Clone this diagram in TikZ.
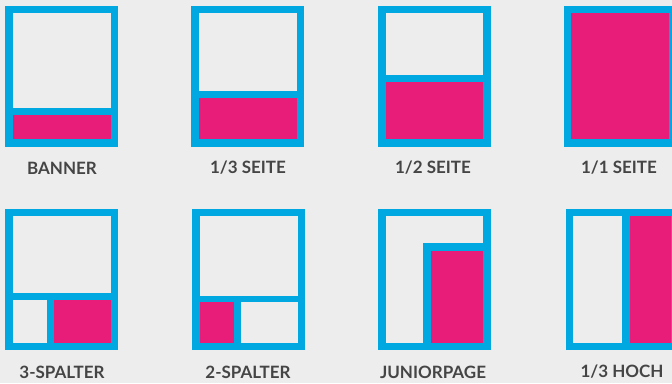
\documentclass[tikz,border=0pt]{standalone}
\usepackage{fontspec}
\setmainfont{Lato}
\usepackage{tikz}
\usetikzlibrary{positioning}
\definecolor{bg}{HTML}{EDEDED}
\definecolor{frame}{HTML}{00A8E1}
\definecolor{ad}{HTML}{E81D7A}
\definecolor{ink}{HTML}{454545}

\begin{document}
\begin{tikzpicture}[x=1pt,y=-1pt,
    blueframe/.style={fill=frame},
    paper/.style={fill=bg},
    adfill/.style={fill=ad},
    caption/.style={font=\fontsize{17}{20}\selectfont\bfseries,text=ink,inner sep=0pt}]
  \fill[bg] (0,0) rectangle (672,383);
  \useasboundingbox (0,0) rectangle (672,383);
  % labels
  \foreach \x/\y/\lab/\name in {62/168/BANNER/lbanner,248/168/{1/3 SEITE}/ldrittel,
      433/168/{1/2 SEITE}/lhalb,619/168/{1/1 SEITE}/lganz,
      62/372/3-SPALTER/ldrei,248/372/2-SPALTER/lzwei,
      433/372/JUNIORPAGE/ljunior,622/372/{1/3 HOCH}/lhoch}
    \node[caption] (\name) at (\x,\y) {\lab};
  % banner
  \fill[blueframe] (5,6) rectangle (118,147);
  \fill[paper] (13,13) rectangle (111,108);
  \fill[adfill] (13,115) rectangle (111,139);
  % 1/3 seite
  \fill[blueframe] (191,6) rectangle (304,147);
  \fill[paper] (199,13) rectangle (297,91);
  \fill[adfill] (199,98) rectangle (297,139);
  % 1/2 seite
  \fill[blueframe] (378,6) rectangle (491,147);
  \fill[paper] (386,13) rectangle (483,75);
  \fill[adfill] (386,82) rectangle (483,139);
  % 1/1 seite
  \fill[blueframe] (564,6) rectangle (677,147);
  \fill[adfill] (571,13) rectangle (669,139);
  % 3-spalter
  \fill[blueframe] (5,209) rectangle (118,350);
  \fill[paper] (13,216) rectangle (111,293);
  \fill[paper] (13,300) rectangle (47,343);
  \fill[adfill] (54,300) rectangle (111,343);
  % 2-spalter
  \fill[blueframe] (192,209) rectangle (305,350);
  \fill[paper] (200,216) rectangle (298,296);
  \fill[adfill] (200,302) rectangle (234,343);
  \fill[paper] (241,302) rectangle (298,343);
  % juniorpage
  \fill[blueframe] (378,209) rectangle (491,350);
  \fill[paper] (386,216) rectangle (483,343);
  \fill[blueframe] (423,243) rectangle (483,343);
  \fill[adfill] (431,251) rectangle (483,343);
  % 1/3 hoch
  \fill[blueframe] (566,209) rectangle (679,350);
  \fill[paper] (573,216) rectangle (622,343);
  \fill[adfill] (630,216) rectangle (671,343);
\end{tikzpicture}
\end{document}
